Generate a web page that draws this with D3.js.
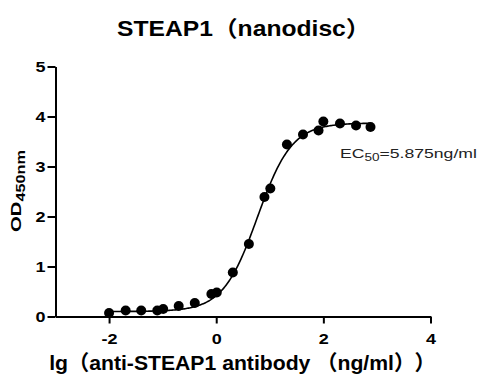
<!DOCTYPE html>
<html>
<head>
<meta charset="utf-8">
<script src="https://cdn.jsdelivr.net/npm/d3@7"></script>
<style>
  html, body { margin: 0; padding: 0; background: #fff; }
  svg { display: block; }
  text { font-family: "Liberation Sans", Arial, "Noto Sans CJK SC", sans-serif; }
</style>
</head>
<body>
<svg id="chart" width="481" height="382"></svg>
<script>
// ---------------- data ----------------
const titleText = "STEAP1（nanodisc）";
const xTitleHead = "lg（anti-STEAP1 antibody （ng/ml）";
const xTitleTail = "）";
const yTitleMain = "OD";
const yTitleSub = "450nm";
const ecLabelMain = "EC";
const ecLabelSub = "50";
const ecLabelRest = "=5.875ng/ml";

const xTicks = [-2, 0, 2, 4];
const yTicks = [0, 1, 2, 3, 4, 5];

// lg(concentration, ng/ml) and OD450 readings
const logConc = [-2.0, -1.69, -1.40, -1.10, -0.99, -0.70, -0.40, -0.09, 0.01, 0.31,
                 0.61, 0.90, 1.01, 1.32, 1.62, 1.91, 2.00, 2.31, 2.61, 2.88];
const od450   = [0.07, 0.12, 0.12, 0.12, 0.15, 0.21, 0.27, 0.45, 0.48, 0.88,
                 1.45, 2.39, 2.56, 3.44, 3.64, 3.72, 3.90, 3.86, 3.82, 3.79];

// four-parameter logistic fit shown in the chart
const fitBottom = 0.10;
const fitTop = 3.87;
const fitLogEC50 = Math.log10(5.875);
const fitHill = 1.35;
const fitRange = [-2.0, 2.88];

// ---------------- drawing ----------------
const svg = d3.select("#chart");
const x = d3.scaleLinear().domain([-3, 4]).range([55.5, 430.5]);
const y = d3.scaleLinear().domain([0, 5]).range([316.5, 66.5]);

function stretchX(sel, cx, sx) {
  sel.attr("transform", `translate(${cx},0) scale(${sx},1) translate(${-cx},0)`);
}
function fitWidth(sel, cx, target) {
  const w = sel.node().getBBox().width;
  stretchX(sel, cx, target / w);
}

// axes
const xAxis = svg.append("g")
  .attr("transform", `translate(0,${y(0)})`)
  .call(d3.axisBottom(x).tickValues(xTicks).tickSize(7).tickSizeOuter(0).tickPadding(9.5)
        .tickFormat(d3.format("d")));
const yAxis = svg.append("g")
  .attr("transform", `translate(${x(-3)},0)`)
  .call(d3.axisLeft(y).tickValues(yTicks).tickSize(8).tickSizeOuter(0).tickPadding(2)
        .tickFormat(d3.format("d")));

[xAxis, yAxis].forEach(a => {
  a.select(".domain").attr("stroke", "#000").attr("stroke-width", 2);
  a.selectAll(".tick line").attr("stroke", "#000").attr("stroke-width", 2);
  a.selectAll(".tick text")
    .attr("fill", "#000")
    .style("font-size", "15px")
    .style("font-weight", "bold")
    .style("font-family", '"Liberation Sans", Arial, sans-serif');
});
xAxis.selectAll(".tick text").text(d => d < 0 ? "-" + Math.abs(d) : d)
  .attr("transform", "scale(1.2,1)");
yAxis.selectAll(".tick text").each(function() {
  const t = d3.select(this);
  const tx = +t.attr("x");
  stretchX(t, tx, 1.2);
});

// fitted curve
const curveX = d3.range(fitRange[0], fitRange[1] + 1e-9, 0.02);
const fitFn = v => fitBottom + (fitTop - fitBottom) / (1 + Math.pow(10, (fitLogEC50 - v) * fitHill));
svg.append("path")
  .datum(curveX)
  .attr("fill", "none")
  .attr("stroke", "#000")
  .attr("stroke-width", 1.6)
  .attr("d", d3.line().x(d => x(d)).y(d => y(fitFn(d))).curve(d3.curveLinear));

// points
svg.append("g").selectAll("circle")
  .data(logConc.map((c, i) => ({c, v: od450[i]})))
  .join("circle")
  .attr("cx", d => x(d.c))
  .attr("cy", d => y(d.v))
  .attr("r", 5)
  .attr("fill", "#000");

// title
const title = svg.append("text")
  .attr("x", 243.8).attr("y", 36)
  .attr("text-anchor", "middle")
  .style("font-size", "22px").style("font-weight", "bold")
  .attr("fill", "#000")
  .text(titleText);
fitWidth(title, 243.8, 253.5);

// x title
const xTitle = svg.append("text")
  .attr("x", 242.5).attr("y", 370)
  .attr("text-anchor", "middle")
  .style("font-size", "21px").style("font-weight", "bold")
  .attr("fill", "#000");
xTitle.append("tspan").text(xTitleHead);
xTitle.append("tspan").attr("dx", 10).text(xTitleTail);
fitWidth(xTitle, 242.5, 387);

// y title
const yt = svg.append("g").attr("transform", "translate(20.5,191) rotate(-90)");
const yTitle = yt.append("text")
  .attr("x", 0).attr("y", 0)
  .attr("text-anchor", "middle")
  .style("font-size", "15px").style("font-weight", "bold")
  .attr("fill", "#000");
yTitle.append("tspan").text(yTitleMain);
yTitle.append("tspan").attr("dy", 4).style("font-size", "12px").text(yTitleSub);
fitWidth(yTitle, 0, 82);

// EC50 label
const ec = svg.append("text")
  .attr("x", 340).attr("y", 158.5)
  .style("font-size", "13px")
  .attr("fill", "#222");
ec.append("tspan").text(ecLabelMain);
ec.append("tspan").attr("dy", 3).style("font-size", "10px").text(ecLabelSub);
ec.append("tspan").attr("dy", -3).text(ecLabelRest);
fitWidth(ec, 340, 137);
</script>
</body>
</html>
